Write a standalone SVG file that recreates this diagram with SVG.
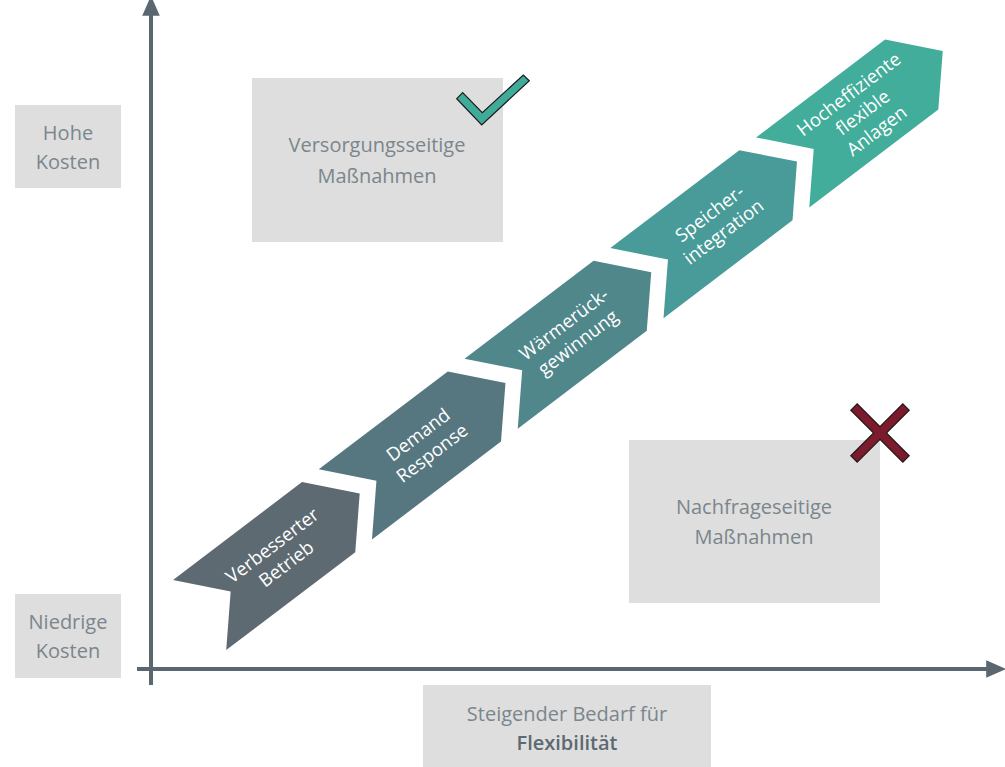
<svg xmlns="http://www.w3.org/2000/svg" width="1005" height="767" viewBox="0 0 1005 767">
  <defs>
    <style>
      .box { fill: #dedede; }
      .lbl { font-family: "Open Sans", "Noto Sans", "DejaVu Sans", sans-serif; font-size: 20px; fill: #7b868c; text-anchor: middle; }
      .lbl-strong { font-weight: 600; fill: #5d6971; }
      .step-text { font-family: "Open Sans", "Noto Sans", "DejaVu Sans", sans-serif; font-size: 18.5px; fill: #ffffff; text-anchor: middle; }
      .axis { stroke: #5b6770; stroke-width: 4; fill: none; }
    </style>
    <marker id="axisHead" markerWidth="5" markerHeight="4.4" refX="1.2" refY="2.2" orient="auto" markerUnits="strokeWidth">
      <path d="M0,0 L5,2.2 L0,4.4 Z" fill="#5b6770"/>
    </marker>
    <!-- one chevron step in its own (rotated) frame -->
    <path id="chev" d="M0,0 L162,0 L201,44 L162,88 L0,88 L39,44 Z"/>
  </defs>

  <!-- axes -->
  <g id="connectors">
    <line class="axis" x1="151" y1="685" x2="151" y2="11" marker-end="url(#axisHead)"/>
    <line class="axis" x1="137" y1="669" x2="991" y2="669" marker-end="url(#axisHead)"/>
  </g>

  <!-- axis labels -->
  <g id="hohe-kosten">
    <rect class="box" x="15" y="105" width="106" height="83"/>
    <text class="lbl" x="68" y="140">Hohe</text>
    <text class="lbl" x="68" y="169">Kosten</text>
  </g>
  <g id="niedrige-kosten">
    <rect class="box" x="15" y="594" width="106" height="84"/>
    <text class="lbl" x="68" y="629">Niedrige</text>
    <text class="lbl" x="68" y="658">Kosten</text>
  </g>
  <g id="bedarf-flexibilitaet">
    <rect class="box" x="423" y="685" width="288" height="82"/>
    <text class="lbl" x="567" y="721">Steigender Bedarf für</text>
    <text class="lbl lbl-strong" x="567" y="750">Flexibilität</text>
  </g>

  <!-- measure groups -->
  <g id="versorgungsseitig">
    <rect class="box" x="252" y="78" width="251" height="164"/>
    <text class="lbl" x="377" y="152">Versorgungsseitige</text>
    <text class="lbl" x="377" y="183">Maßnahmen</text>
    <polygon points="462.7,92.7 482.3,112.7 523.3,75 529.3,80.7 481.7,125 456.7,98.7" fill="#3fab98" stroke="#1a1a1a" stroke-width="1.2" stroke-linejoin="miter"/>
  </g>
  <g id="nachfrageseitig">
    <rect class="box" x="629" y="440" width="251" height="163"/>
    <text class="lbl" x="754" y="514">Nachfrageseitige</text>
    <text class="lbl" x="754" y="544">Maßnahmen</text>
    <polygon transform="translate(880,433)" points="0,-6.4 22.8,-29.2 29.2,-22.8 6.4,0 29.2,22.8 22.8,29.2 0,6.4 -22.8,29.2 -29.2,22.8 -6.4,0 -29.2,-22.8 -22.8,-29.2" fill="#7d1a2c" stroke="#1a1a1a" stroke-width="1.2"/>
  </g>

  <!-- chevron steps along the rising diagonal -->
  <g id="steps" transform="translate(173,580) rotate(-37.2)">
    <g id="step-betrieb">
      <use href="#chev" fill="#5d6a72"/>
      <text class="step-text" x="100" y="39">Verbesserter</text>
      <text class="step-text" x="100" y="62">Betrieb</text>
    </g>
    <g id="step-demand-response" transform="translate(183,0)">
      <use href="#chev" fill="#56777f"/>
      <text class="step-text" x="100" y="39">Demand</text>
      <text class="step-text" x="100" y="62">Response</text>
    </g>
    <g id="step-waermerueckgewinnung" transform="translate(366,0)">
      <use href="#chev" fill="#4f878b"/>
      <text class="step-text" x="100" y="39">Wärmerück-</text>
      <text class="step-text" x="100" y="62">gewinnung</text>
    </g>
    <g id="step-speicherintegration" transform="translate(549,0)">
      <use href="#chev" fill="#489b98"/>
      <text class="step-text" x="100" y="39">Speicher-</text>
      <text class="step-text" x="100" y="62">integration</text>
    </g>
    <g id="step-anlagen" transform="translate(732,0)">
      <use href="#chev" fill="#41ad9a"/>
      <text class="step-text" x="100" y="28">Hocheffiziente</text>
      <text class="step-text" x="100" y="51">flexible</text>
      <text class="step-text" x="100" y="74">Anlagen</text>
    </g>
  </g>
</svg>
